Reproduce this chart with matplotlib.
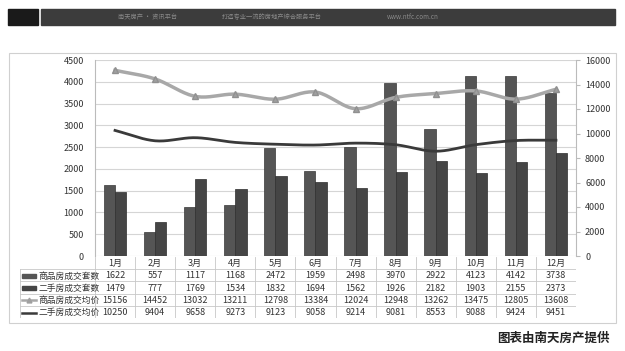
import numpy as np
import matplotlib
matplotlib.use("Agg")
import matplotlib.pyplot as plt
from matplotlib.patches import Rectangle

plt.rcParams['font.family'] = ['Noto Sans CJK SC', 'DejaVu Sans']

months = ['1月', '2月', '3月', '4月', '5月', '6月', '7月', '8月', '9月', '10月', '11月', '12月']
new_units = [1622, 557, 1117, 1168, 2472, 1959, 2498, 3970, 2922, 4123, 4142, 3738]
used_units = [1479, 777, 1769, 1534, 1832, 1694, 1562, 1926, 2182, 1903, 2155, 2373]
new_price = [15156, 14452, 13032, 13211, 12798, 13384, 12024, 12948, 13262, 13475, 12805, 13608]
used_price = [10250, 9404, 9658, 9273, 9123, 9058, 9214, 9081, 8553, 9088, 9424, 9451]
row_labels = ['商品房成交套数', '二手房成交套数', '商品房成交均价', '二手房成交均价']

W, H = 625, 351
fig = plt.figure(figsize=(W / 100, H / 100), dpi=100)


def fbox(x0, y0, x1, y1):
    # pixel box (top-left origin) -> figure fraction rect
    return [x0 / W, 1 - y1 / H, (x1 - x0) / W, (y1 - y0) / H]


def smooth(xs, ys, n=20):
    # Catmull-Rom curve through the data points (like Excel smoothed line)
    xs = np.asarray(xs, float)
    ys = np.asarray(ys, float)
    px = np.concatenate([[2 * xs[0] - xs[1]], xs, [2 * xs[-1] - xs[-2]]])
    py = np.concatenate([[2 * ys[0] - ys[1]], ys, [2 * ys[-1] - ys[-2]]])
    outx, outy = [], []
    t = np.linspace(0, 1, n)
    for i in range(1, len(px) - 2):
        for p, out in ((px, outx), (py, outy)):
            p0, p1, p2, p3 = p[i - 1], p[i], p[i + 1], p[i + 2]
            out.extend(0.5 * (2 * p1 + (-p0 + p2) * t + (2 * p0 - 5 * p1 + 4 * p2 - p3) * t ** 2
                              + (-p0 + 3 * p1 - 3 * p2 + p3) * t ** 3))
    return outx, outy


# background decorations: header bar, outer frame
deco = fig.add_axes([0, 0, 1, 1])
deco.set_xlim(0, W)
deco.set_ylim(H, 0)
deco.axis('off')
deco.add_patch(Rectangle((8, 9), 30, 16, color='#1a1a1a'))
deco.add_patch(Rectangle((41, 9), 574, 16, color='#3c3c3c'))
deco.text(148, 17, '南天房产 · 资讯平台', color='#8a8a8a', fontsize=4.5, ha='center', va='center')
deco.text(272, 17, '打造专业一流的房地产综合服务平台', color='#8a8a8a', fontsize=4.5, ha='center', va='center')
deco.text(413, 17, 'www.ntfc.com.cn', color='#8a8a8a', fontsize=4.5, ha='center', va='center')
deco.add_patch(Rectangle((9, 53), 607, 270, fill=False, ec='#d0d0d0', lw=0.8))
deco.text(610, 338, '图表由南天房产提供', fontsize=9, fontweight='bold', ha='right', va='center',
          color='#222222')

# main chart
ax = fig.add_axes(fbox(95, 60, 576, 256))
x = np.arange(len(months))
bw = 0.28
ax.bar(x - bw / 2, new_units, bw, color='#555555', edgecolor='#383838', lw=0.5, zorder=2)
ax.bar(x + bw / 2, used_units, bw, color='#454545', edgecolor='#2e2e2e', lw=0.5, zorder=2)
ax.set_xlim(-0.5, len(months) - 0.5)
ax.set_ylim(0, 4500)
ax.set_yticks(range(0, 4501, 500))
ax.tick_params(axis='y', labelsize=6.5, length=0, pad=8, labelcolor='#333333')
ax.set_xticks([])
ax.grid(axis='y', color='#d5d5d5', lw=0.8, zorder=0)
ax.set_axisbelow(True)
for s in ['top', 'right', 'bottom']:
    ax.spines[s].set_visible(False)
ax.spines['left'].set_color('#bbbbbb')

ax2 = ax.twinx()
ax2.set_ylim(0, 16000)
ax2.set_yticks(range(0, 16001, 2000))
ax2.tick_params(axis='y', labelsize=6.5, length=3, color='#bbbbbb', labelcolor='#333333')
for s in ['top', 'left', 'bottom']:
    ax2.spines[s].set_visible(False)
ax2.spines['right'].set_color('#bbbbbb')
sx, sy = smooth(x, new_price)
ax2.plot(sx, sy, color='#a8a8a8', lw=2.5, zorder=3)
ax2.plot(x, new_price, ls='none', marker='^', ms=5, color='#a0a0a0', mec='#909090', zorder=4)
sx, sy = smooth(x, used_price)
ax2.plot(sx, sy, color='#3a3a3a', lw=2.0, zorder=3)

# data table
lab_w = 75 / (481 / 12)
axt = fig.add_axes(fbox(20, 257, 576, 318))
axt.set_xlim(-0.5 - lab_w, len(months) - 0.5)
axt.set_ylim(5, 0)
axt.axis('off')
gc = '#c8c8c8'
for r in range(1, 6):
    axt.plot([-0.5 - lab_w, len(months) - 0.5], [r, r], color=gc, lw=0.6)
for c in range(len(months) + 1):
    axt.plot([c - 0.5, c - 0.5], [0, 5], color=gc, lw=0.6)
axt.plot([-0.5 - lab_w, -0.5 - lab_w], [1, 5], color=gc, lw=0.6)
axt.plot([len(months) - 0.5] * 2, [0, 5], color=gc, lw=0.6)
for i, m in enumerate(months):
    axt.text(i, 0.55, m, ha='center', va='center', fontsize=6.5, color='#333333')
rows = [new_units, used_units, new_price, used_price]
for r, vals in enumerate(rows):
    for i, v in enumerate(vals):
        axt.text(i, r + 1.55, str(v), ha='center', va='center', fontsize=6.5, color='#333333')
    axt.text(-0.5 - lab_w + 0.45, r + 1.55, row_labels[r], ha='left', va='center', fontsize=6.3,
             color='#333333')
# legend keys
k0, k1 = -0.5 - lab_w + 0.05, -0.5 - lab_w + 0.4
axt.add_patch(Rectangle((k0, 1.4), k1 - k0, 0.3, color='#555555'))
axt.add_patch(Rectangle((k0, 2.4), k1 - k0, 0.3, color='#454545'))
axt.plot([k0, k1], [3.55, 3.55], color='#a8a8a8', lw=1.8)
axt.plot([(k0 + k1) / 2], [3.55], marker='^', ms=3.5, color='#a0a0a0')
axt.plot([k0, k1], [4.55, 4.55], color='#3a3a3a', lw=1.8)

fig.savefig('out.png', dpi=100)
